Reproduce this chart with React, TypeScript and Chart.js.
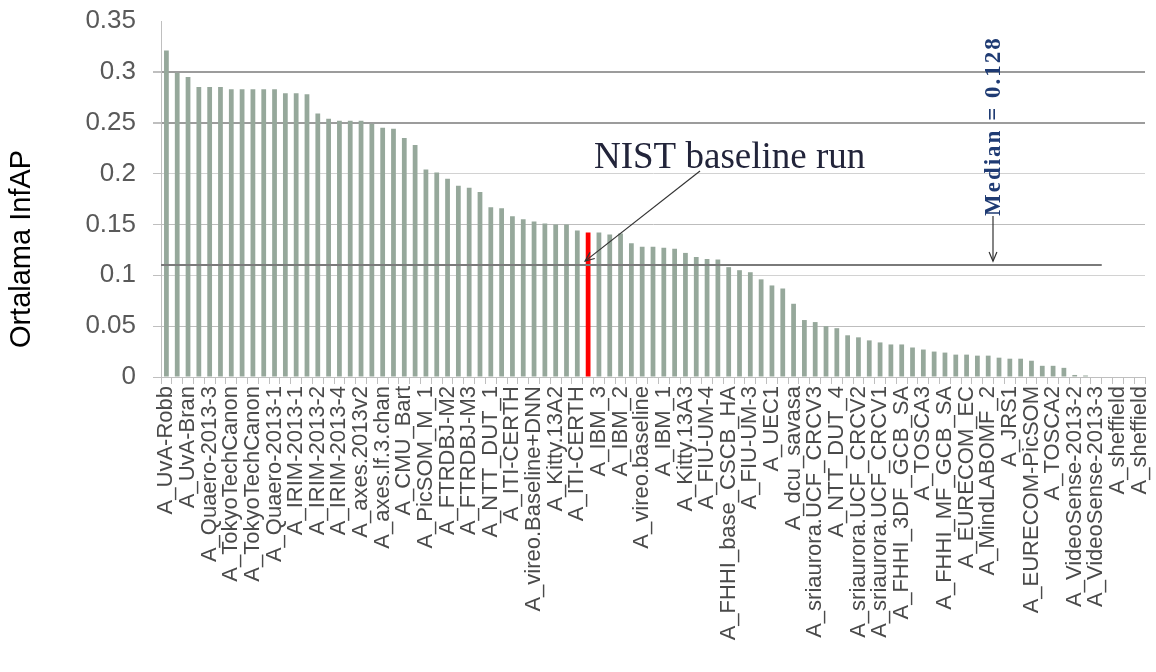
import React, { useEffect, useRef } from "react";
import { Chart, registerables } from "chart.js";

Chart.register(...registerables);

// Run names shown on the axis (every other run is labelled in the original)
const labeledRuns: string[] = [
  "A_UvA-Robb", "A_UvA-Bran", "A_Quaero-2013-3", "A_TokyoTechCanon", "A_TokyoTechCanon",
  "A_Quaero-2013-1", "A_IRIM-2013-1", "A_IRIM-2013-2", "A_IRIM-2013-4", "A_axes.2013v2",
  "A_axes.lf.3.chan", "A_CMU_Bart", "A_PicSOM_M_1", "A_FTRDBJ-M2", "A_FTRDBJ-M3",
  "A_NTT_DUT_1", "A_ITI-CERTH", "A_vireo.Baseline+DNN", "A_Kitty.13A2", "A_ITI-CERTH",
  "A_IBM_3", "A_IBM_2", "A_vireo.baseline", "A_IBM_1", "A_Kitty.13A3",
  "A_FIU-UM-4", "A_FHHI_base_CSCB_HA", "A_FIU-UM-3", "A_UEC1", "A_dcu_savasa",
  "A_sriaurora.UCF_CRCV3", "A_NTT_DUT_4", "A_sriaurora.UCF_CRCV2", "A_sriaurora.UCF_CRCV1", "A_FHHI_3DF_GCB_SA",
  "A_TOSCA3", "A_FHHI_MF_GCB_SA", "A_EURECOM_EC", "A_MindLABOMF_2", "A_JRS1",
  "A_EURECOM-PicSOM", "A_TOSCA2", "A_VideoSense-2013-2", "A_VideoSense-2013-3", "A_sheffield",
  "A_sheffield",
];

// Mean InfAP per run (91 runs, sorted)
const infAP: number[] = [
  0.321, 0.299, 0.295, 0.285, 0.285, 0.285, 0.283, 0.283, 0.283, 0.283,
  0.283, 0.279, 0.279, 0.278, 0.259, 0.254, 0.252, 0.252, 0.252, 0.249,
  0.245, 0.244, 0.235, 0.228, 0.204, 0.201, 0.195, 0.188, 0.186, 0.182,
  0.167, 0.166, 0.158, 0.155, 0.153, 0.151, 0.150, 0.150, 0.144, 0.142,
  0.142, 0.140, 0.141, 0.1315, 0.128, 0.128, 0.127, 0.126, 0.122, 0.118,
  0.116, 0.1155, 0.108, 0.105, 0.103, 0.096, 0.090, 0.087, 0.072, 0.056,
  0.054, 0.050, 0.048, 0.041, 0.039, 0.036, 0.034, 0.032, 0.032, 0.029,
  0.027, 0.025, 0.024, 0.022, 0.022, 0.021, 0.021, 0.019, 0.018, 0.018,
  0.016, 0.011, 0.011, 0.009, 0.002, 0.0015, 0, 0, 0, 0,
  0,
];

const categories: string[] = infAP.map((_, i) => (i % 2 === 0 ? labeledRuns[i / 2] ?? "" : ""));

const baselineIndex = 39; // NIST baseline run (red bar)
const medianLineValue = 0.11;
const medianLineEndIndex = 86;
const yTickLabels: string[] = ["0", "0.05", "0.1", "0.15", "0.2", "0.25", "0.3", "0.35"];
const yTitle = "Ortalama InfAP";
const baselineLabel = "NIST baseline run";
const medianLabel = "Median = 0.128";

const BAR = "#96a89b";
const RED = "#ff0000";

function arrow(ctx: CanvasRenderingContext2D, x1: number, y1: number, x2: number, y2: number) {
  ctx.beginPath();
  ctx.moveTo(x1, y1);
  ctx.lineTo(x2, y2);
  ctx.stroke();
  const a = Math.atan2(y2 - y1, x2 - x1);
  const L = 10;
  const s = 0.4;
  ctx.beginPath();
  ctx.moveTo(x2 - L * Math.cos(a - s), y2 - L * Math.sin(a - s));
  ctx.lineTo(x2, y2);
  ctx.lineTo(x2 - L * Math.cos(a + s), y2 - L * Math.sin(a + s));
  ctx.stroke();
}

const annotations = {
  id: "annotations",
  afterDatasetsDraw(chart: any) {
    const { ctx, chartArea, scales } = chart;
    const xs = scales.x;
    const ys = scales.y;
    const cw = xs.getPixelForValue(1) - xs.getPixelForValue(0);
    ctx.save();

    // median line
    const my = ys.getPixelForValue(medianLineValue);
    ctx.strokeStyle = "#7a7a7a";
    ctx.lineWidth = 2;
    ctx.beginPath();
    ctx.moveTo(chartArea.left, my);
    ctx.lineTo(xs.getPixelForValue(medianLineEndIndex) + cw / 2, my);
    ctx.stroke();

    // NIST baseline text + arrow
    ctx.fillStyle = "#22243a";
    ctx.font = '37px "Liberation Serif"';
    ctx.textAlign = "left";
    ctx.textBaseline = "alphabetic";
    ctx.fillText(baselineLabel, 594, 168);
    ctx.strokeStyle = "#333333";
    ctx.lineWidth = 1.2;
    arrow(ctx, 700, 171, xs.getPixelForValue(baselineIndex) - 3, my - 4);

    // Median label (rotated) + arrow
    ctx.save();
    ctx.translate(994, 216);
    ctx.rotate(-Math.PI / 2);
    ctx.fillStyle = "#1f3b73";
    ctx.font = 'bold 23px "Liberation Serif"';
    (ctx as any).letterSpacing = "2px";
    ctx.textAlign = "left";
    ctx.textBaseline = "middle";
    ctx.fillText(medianLabel, 0, 0);
    ctx.restore();
    ctx.strokeStyle = "#333333";
    ctx.lineWidth = 1.2;
    arrow(ctx, 993, 216, 993, my - 4);

    // y-axis title
    ctx.save();
    ctx.translate(22, 249);
    ctx.rotate(-Math.PI / 2);
    ctx.fillStyle = "#000000";
    ctx.font = '29px "Liberation Sans"';
    ctx.textAlign = "center";
    ctx.textBaseline = "middle";
    ctx.fillText(yTitle, 0, 0);
    ctx.restore();

    ctx.restore();
  },
};

function gridColor(v: number): string {
  const r = Math.round(v * 100);
  if (r === 35) return "rgba(0,0,0,0)";
  if (r === 30 || r === 25) return "#9c9c9c";
  if (r === 15 || r === 5) return "#bdbdbd";
  return "#d2d2d2";
}

export default function App() {
  const ref = useRef<HTMLCanvasElement | null>(null);
  useEffect(() => {
    if (!ref.current) return;
    Chart.defaults.font.family = '"Liberation Sans", Arial, sans-serif';
    const chart = new Chart(ref.current, {
      type: "bar",
      data: {
        labels: categories,
        datasets: [
          {
            data: infAP,
            backgroundColor: infAP.map((_, i) => (i === baselineIndex ? RED : BAR)),
            barPercentage: 0.44,
            categoryPercentage: 1.0,
          },
        ],
      },
      options: {
        responsive: false,
        animation: false,
        devicePixelRatio: 1,
        layout: { padding: { left: 0, right: 11, top: 21, bottom: 0 } },
        plugins: { legend: { display: false }, tooltip: { enabled: false } },
        scales: {
          x: {
            offset: true,
            grid: {
              display: true,
              offset: true,
              drawOnChartArea: false,
              drawTicks: true,
              tickLength: 7,
              color: "#bfbfbf",
            },
            border: { display: true, color: "#bfbfbf" },
            ticks: {
              autoSkip: false,
              minRotation: 90,
              maxRotation: 90,
              padding: 2,
              color: "#4a4a4a",
              font: { size: 22 },
            },
            afterFit: (s: any) => {
              s.height = 295;
              s.paddingLeft = 0;
              s.paddingRight = 0;
            },
          },
          y: {
            min: 0,
            max: 0.35,
            ticks: {
              stepSize: 0.05,
              padding: 17,
              color: "#595959",
              font: { size: 26 },
              callback: (_v: any, i: number) => yTickLabels[i],
            },
            grid: {
              color: (c: any) => gridColor(c.tick ? c.tick.value : 0),
              lineWidth: (c: any) => {
                const r = Math.round((c.tick ? c.tick.value : 0) * 100);
                return r === 30 || r === 25 ? 2 : 1;
              },
              tickLength: 8,
              tickColor: (c: any) =>
                Math.round((c.tick ? c.tick.value : 0) * 100) === 35 ? "rgba(0,0,0,0)" : "#bfbfbf",
            },
            border: { display: true, color: "#bfbfbf" },
            afterFit: (s: any) => {
              s.width = 161;
              s.paddingTop = 0;
              s.paddingBottom = 0;
            },
          },
        },
      },
      plugins: [annotations],
    });
    return () => chart.destroy();
  }, []);

  return (
    <div style={{ position: "absolute", left: 0, top: 0, width: 1156, height: 672, background: "#fff" }}>
      <canvas ref={ref} width={1156} height={672} />
    </div>
  );
}
